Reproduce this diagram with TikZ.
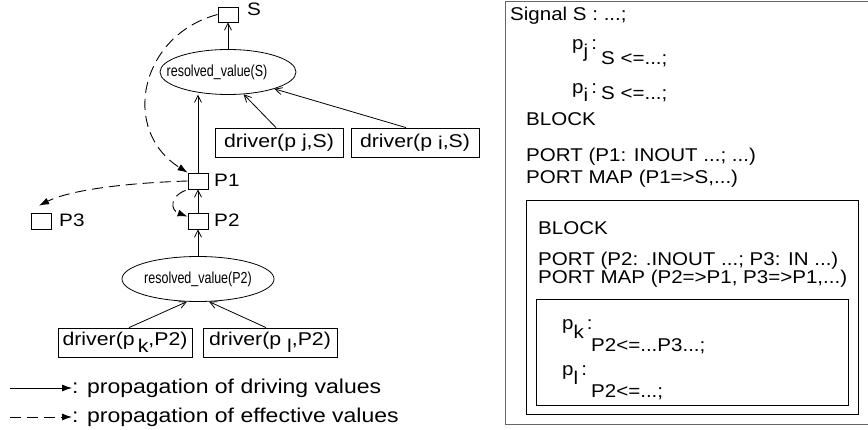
\documentclass[tikz,border=0pt]{standalone}
\usepackage{fontspec}
\setmainfont[FakeStretch=1.15]{Liberation Sans}
\newfontfamily\codefont[FakeStretch=1.11]{Liberation Sans}
\newfontfamily\narrowfont[FakeStretch=0.78]{Liberation Sans}
\usetikzlibrary{shapes.geometric,arrows.meta,calc}
\begin{document}
\begin{tikzpicture}[x=1pt,y=-1pt,
  portbox/.style={draw, line width=0.8pt, minimum width=20pt, minimum height=16pt, inner sep=0pt},
  lbl/.style={anchor=west, inner sep=0pt, font=\fontsize{18}{21}\selectfont},
  resolv/.style={draw, ellipse, line width=0.8pt, minimum width=136pt, minimum height=45pt, inner sep=0pt, font=\narrowfont\fontsize{16}{18}\selectfont},
  drv/.style={draw, line width=0.8pt, minimum height=29pt, inner sep=0pt, font=\fontsize{18.5}{22}\selectfont},
  drive/.style={line width=0.8pt, -{Straight Barb[length=7pt,width=7pt]}},
  eff/.style={line width=0.9pt, dash pattern=on 11pt off 6pt, -{Latex[length=10pt,width=7pt]}},
  code/.style={anchor=base west, inner sep=0pt, font=\codefont\fontsize{18.5}{22}\selectfont},
  legtext/.style={anchor=west, inner sep=0pt, font=\fontsize{20}{24}\selectfont},
  frame/.style={draw, line width=0.9pt}
]
\useasboundingbox (0,0) rectangle (868,430);

% ---------- left: graph ----------
\node[portbox, minimum height=15pt] (S) at (228,14.5) {};
\node[lbl] (Slbl) at (247,9) {S};
\node[resolv] (ellS) at (228,72) {\hspace*{-22pt}resolved\_value(S)};
\node[drv, minimum width=128pt] (drvJ) at (279,142.5) {driver(p j,S)};
\node[drv, minimum width=128pt] (drvI) at (415,142.5) {driver(p \raisebox{-0.1em}{i},S)};
\node[portbox] (P1) at (198,181) {};
\node[lbl] (P1lbl) at (214,180) {P1};
\node[portbox] (P3) at (41,221) {};
\node[lbl] (P3lbl) at (59,220) {P3};
\node[portbox] (P2) at (198,221) {};
\node[lbl] (P2lbl) at (214,220) {P2};
\node[resolv] (ellP2) at (198,279) {resolved\_value(P2)};
\node[drv, minimum width=134pt] (drvK) at (125,342.5) {driver(p\,\raisebox{-0.4em}{k},P2)};
\node[drv, minimum width=134pt] (drvL) at (270,342.5) {driver(p \raisebox{-0.4em}{l},P2)};

% driving values
\draw[drive] (ellS.north) -- (S.south);
\draw[drive] ($(drvJ.north)+(-3,0)$) -- (ellS.-55);
\draw[drive] ($(drvI.north)+(-9,0)$) -- (ellS.-20);
\draw[drive] (P1.north) -- (P1.north |- ellS.-116);
\draw[drive] (P2.north) -- (P1.south);
\draw[drive] (ellP2.north) -- (P2.south);
\draw[drive] ($(drvK.north)+(4,0)$) -- (ellP2.-116);
\draw[drive] ($(drvL.north)+(-4,0)$) -- (ellP2.-64);

% effective values
\draw[eff] (S.west) .. controls (140,35) and (120,130) .. (P1.north west);
\draw[eff] (P1.west) .. controls (125,183) and (70,190) .. ($(P3.north)+(-2,-7)$);
\draw[eff] ($(P1.south west)+(-2,1)$) .. controls (170,196) and (170,210) .. ($(P2.north west)+(0,4)$);

% legend
\coordinate (legA) at (10,388);
\coordinate (legB) at (10,417);
\node[legtext] (leg1) at (72,388) {: propagation of driving values};
\node[legtext] (leg2) at (72,417) {: propagation of effective values};
\draw[line width=0.8pt, -{Latex[length=10pt,width=7pt]}] (legA) -- (leg1.west);
\draw[line width=0.9pt, dash pattern=on 11pt off 6pt, -{Latex[length=10pt,width=7pt]}] (legB) -- (leg2.west);

% ---------- right: code ----------
\draw[frame, draw=black!60] (505,1) rectangle (890,424);
\draw[frame] (526,200) rectangle (858,414);
\draw[frame] (536,299) rectangle (848,405);

\node[code] (t1) at (510,21) {Signal S : ...;};
\node[code] (pj) at (572,50) {p\raisebox{-0.4em}{j}\,:};
\node[code] (sj) at (601,65) {S <=...;};
\node[code] (pi) at (572,94) {p\raisebox{-0.4em}{i}\,:};
\node[code] (si) at (601,100) {S <=...;};
\node[code] (b1) at (526,126) {BLOCK};
\node[code] (port1) at (526,162) {PORT (P1: INOUT ...; ...)};
\node[code] (map1) at (526,184) {PORT MAP (P1=>S,...)};
\node[code] (b2) at (538,235) {BLOCK};
\node[code] (port2) at (538,266) {PORT (P2: .INOUT ...; P3: IN ...)};
\node[code] (map2) at (538,284) {PORT MAP (P2=>P1, P3=>P1,...)};
\node[code] (pk) at (562,330) {p\raisebox{-0.45em}{k}\,:};
\node[code] (sk) at (591,352) {P2<=...P3...;};
\node[code] (pl) at (562,376) {p\raisebox{-0.45em}{l}\,:};
\node[code] (sl) at (591,398) {P2<=...;};
\end{tikzpicture}
\end{document}
